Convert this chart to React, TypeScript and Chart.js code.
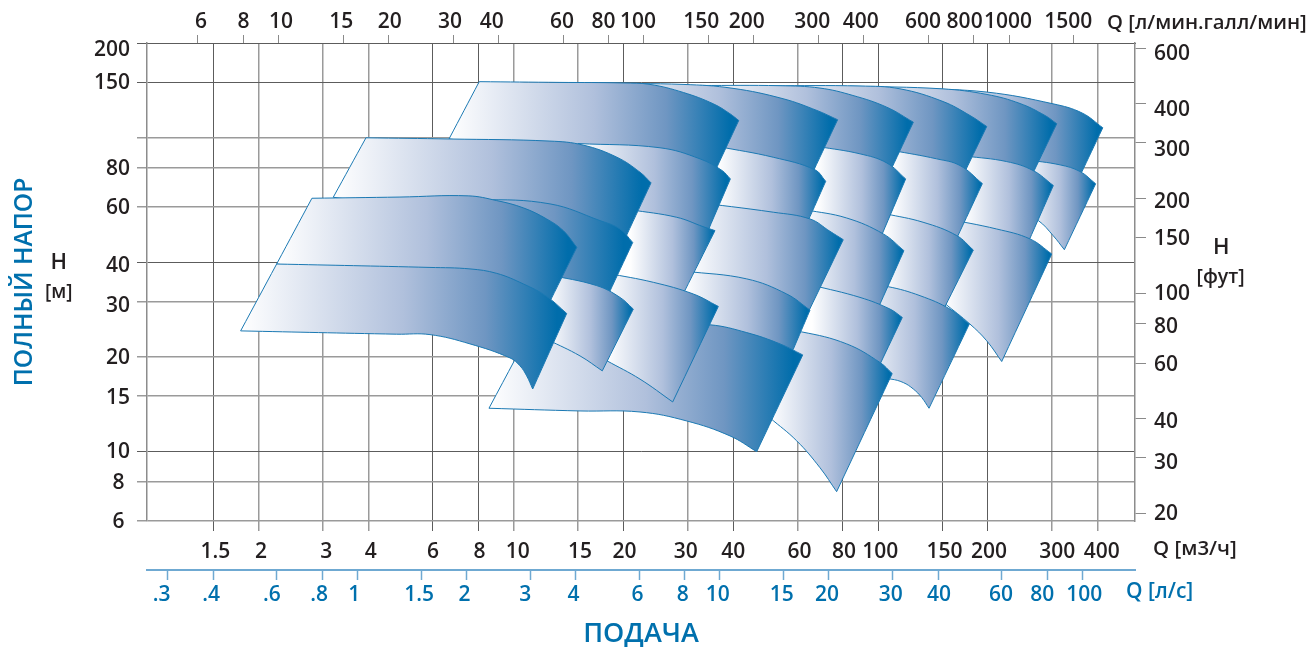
import { useEffect, useRef } from "react";
import { Chart, registerables } from "chart.js";

Chart.register(...registerables);

type Pair = [number, number];

// tick labels
const qCubicPerHour = [1.5, 2, 3, 4, 6, 8, 10, 15, 20, 30, 40, 60, 80, 100, 150, 200, 300, 400];
const qLitresPerMin = [6, 8, 10, 15, 20, 30, 40, 60, 80, 100, 150, 200, 300, 400, 600, 800, 1000, 1500];
const qLitresPerSec = [0.3, 0.4, 0.6, 0.8, 1, 1.5, 2, 3, 4, 6, 8, 10, 15, 20, 30, 40, 60, 80, 100];
const headMetres = [6, 8, 10, 15, 20, 30, 40, 60, 80, 100, 150, 200];
const headFeet = [20, 30, 40, 60, 80, 100, 150, 200, 300, 400, 600];
const unlabelledHead = [100];

// pump ranges: [Q m3/h, H m] along upper and lower edges, left to right
const a6Top: Pair[] = [[126.1, 143.4], [198.8, 139.5], [301.7, 128], [362.3, 119.7], [413, 107.4]];
const a6Bottom: Pair[] = [[98, 75.7], [357.8, 75.6]];
const a5Top: Pair[] = [[83.6, 145.8], [149.6, 142.9], [198.8, 137.1], [244.9, 128.3], [286.8, 117.5], [308.8, 110.6]];
const a5Bottom: Pair[] = [[65, 76.8], [265, 76.5]];
const a4Top: Pair[] = [[50.47, 146.2], [89.1, 145.9], [114.7, 142.9], [150.5, 130.2], [178.5, 117.5], [198.4, 108.4]];
const a4Bottom: Pair[] = [[39, 77.3], [172.6, 77.5]];
const a3Top: Pair[] = [[32.43, 146.5], [53.76, 146.2], [69.2, 143.7], [85.2, 136.1], [105.5, 124.9], [124.8, 111.9]];
const a3Bottom: Pair[] = [[25, 78.5], [108.6, 79.4]];
const a2Top: Pair[] = [[17.24, 148.7], [29.13, 147.6], [39.95, 143.4], [54.79, 132.9], [67.9, 121.9], [77.36, 113.9]];
const a2Bottom: Pair[] = [[12.6, 78.5], [66.2, 77.7]];
const a1Top: Pair[] = [[8.04, 150.6], [13.39, 149.8], [19.94, 149.2], [23.65, 147.6], [29.2, 139.1], [35.28, 128], [39.2, 119], [41.42, 113.3]];
const a1Bottom: Pair[] = [[6.642, 98.9], [35.9, 79.4]];

const b7Top: Pair[] = [[252.8, 85], [315.3, 81.8], [357.8, 77.9], [394.8, 71.2]];
const b7Bottom: Pair[] = [[252.8, 56.4], [274.9, 54.35], [301.7, 48.7], [324, 43.9]];
const b6Top: Pair[] = [[173, 87.3], [225.1, 83.8], [265.8, 78.5], [302.2, 70.3]];
const b6Bottom: Pair[] = [[135, 46.9], [257.7, 46.3]];
const b5Top: Pair[] = [[109.7, 90.9], [144.6, 85.5], [167.6, 81.4], [193, 71.3]];
const b5Bottom: Pair[] = [[85, 47.95], [163.8, 47.5]];
const b4Top: Pair[] = [[68.33, 93.6], [89.1, 88.7], [105.5, 83], [118.9, 73.8]];
const b4Bottom: Pair[] = [[53, 48.7], [102, 48.6]];
const b3Top: Pair[] = [[36.34, 93.6], [51.52, 86.5], [67.04, 78.9], [71.74, 72.5]];
const b3Bottom: Pair[] = [[28, 54.35], [63.9, 53.6]];
const b2Top: Pair[] = [[15.01, 95.67], [25.19, 92.73], [32.43, 85.5], [37.27, 78.5], [39.28, 73.8]];
const b2Bottom: Pair[] = [[11.7, 51.25], [34.1, 50.4]];
const b1Top: Pair[] = [[3.931, 99.77], [6.683, 98.9], [12.57, 97.4], [15.49, 94.6], [19.19, 86.5], [22.2, 77.5], [23.8, 71.7]];
const b1Bottom: Pair[] = [[3.197, 64.5], [20.36, 48.6]];

const c7Top: Pair[] = [[152.5, 55.2], [211.3, 51.1], [260.9, 47.5], [299.2, 42.55]];
const c7Bottom: Pair[] = [[152.5, 29.54], [178.5, 25.44], [198.4, 22.5], [218.1, 19.33]];
const c6Top: Pair[] = [[104.4, 57.2], [132.7, 53.7], [164.1, 48.7], [182.3, 43.8]];
const c6Bottom: Pair[] = [[81, 28.7], [151.2, 28.4]];
const c5Top: Pair[] = [[62.96, 58.9], [81.9, 55.4], [103.2, 49.3], [117.6, 43.6]];
const c5Bottom: Pair[] = [[49, 29.76], [101, 29.4]];
const c4Top: Pair[] = [[30.44, 62.5], [51.52, 57.8], [64.98, 55], [73.7, 50.24], [80.16, 47.25]];
const c4Bottom: Pair[] = [[23.7, 28.05], [64.2, 27.7]];
const c3Top: Pair[] = [[20.84, 58.9], [27.99, 55.69], [33.05, 52.01], [35.65, 50.5]];
const c3Bottom: Pair[] = [[16.2, 32.5], [29.3, 32.1]];
const c2Top: Pair[] = [[2.939, 62.95], [8.078, 63.4], [12.57, 61.44], [17.24, 54.35], [19.56, 51.1], [21.2, 46.3]];
const c2Bottom: Pair[] = [[2.939, 39.9], [18.2, 31.7]];
const c1Top: Pair[] = [[2.794, 64.03], [4.873, 64.6], [7.5, 65.17], [8.977, 62.95], [10.62, 59.68], [12.31, 55], [13.67, 50.5], [14.89, 44.67]];
const c1Bottom: Pair[] = [[2.236, 39.53], [12.63, 30.4]];

const d6Top: Pair[] = [[89.1, 34.24], [106.5, 33.47], [130.2, 31.33], [157.3, 28.4], [177.7, 25.44]];
const d6Bottom: Pair[] = [[89.1, 17.4], [108.4, 16.99], [117.1, 16.57], [124.8, 15.8], [131.6, 14.84], [137.8, 13.72]];
const d5Top: Pair[] = [[65.8, 33.86], [89.1, 30.94], [107.7, 28.4], [116.4, 26.71]];
const d5Bottom: Pair[] = [[51, 19.15], [101, 18.9]];
const d4Top: Pair[] = [[29.5, 37.51], [43.57, 35.44], [56.08, 31.72], [64.98, 28.2]];
const d4Bottom: Pair[] = [[23, 21.37], [58.4, 21.1]];
const d3Top: Pair[] = [[18.02, 36.96], [24.15, 34.56], [31.09, 31.72], [36.41, 28.96]];
const d3Bottom: Pair[] = [[18.02, 19.43], [22.2, 16.99], [27.29, 14.37]];
const d2Top: Pair[] = [[12.41, 36.56], [16.88, 33.74], [19.56, 30.94], [21.28, 28.4]];
const d2Bottom: Pair[] = [[12.41, 22.67], [15.2, 20.14], [17.49, 18.05]];
const d1Top: Pair[] = [[2.236, 39.53], [5.89, 38.55], [7.583, 38.13], [8.977, 36.91], [10.62, 34.16], [12.31, 31.17], [13.97, 27.5]];
const d1Bottom: Pair[] = [[1.781, 24.2], [4.772, 23.62], [5.89, 23.55], [7.583, 22], [9.764, 19.85], [10.4, 18.73], [10.85, 17.4], [11.27, 15.8]];

const e2Top: Pair[] = [[50.47, 24.56], [61.66, 24.02], [81.9, 22], [101.1, 19.19], [109.2, 17.7]];
const e2Bottom: Pair[] = [[50.47, 12.78], [59.75, 10.8], [69.2, 8.87], [76.87, 7.44]];
const e1Top: Pair[] = [[11.8, 27.64], [34.54, 25.31], [43.57, 23.9], [53.76, 22], [62.05, 20.29]];
const e1Bottom: Pair[] = [[8.55, 13.72], [15.2, 13.45], [22.2, 13.35], [29.81, 12.5], [39.2, 11.2], [46.4, 9.98]];

// back to front
const ranges: Pair[][][] = [
  [a6Top, a6Bottom], [b7Top, b7Bottom], [a5Top, a5Bottom], [b6Top, b6Bottom], [c7Top, c7Bottom],
  [a4Top, a4Bottom], [b5Top, b5Bottom], [c6Top, c6Bottom], [d6Top, d6Bottom],
  [a3Top, a3Bottom], [b4Top, b4Bottom], [c5Top, c5Bottom], [d5Top, d5Bottom],
  [a2Top, a2Bottom], [b3Top, b3Bottom], [c4Top, c4Bottom], [e2Top, e2Bottom], [d4Top, d4Bottom],
  [a1Top, a1Bottom], [b2Top, b2Bottom], [c3Top, c3Bottom], [e1Top, e1Bottom], [d3Top, d3Bottom],
  [b1Top, b1Bottom], [c2Top, c2Bottom], [d2Top, d2Bottom], [c1Top, c1Bottom], [d1Top, d1Bottom],
];
// ranges whose slanted left side is in view: the gradient starts at their lower corner
const openLeft = [a1Top, b1Top, c1Top, d1Top, e1Top];

const softX = [2, 10, 15, 300, 400, 3, 4, 30, 60];
const softY = [6, 8, 15, 20, 30, 60, 80, 100];
const FONT = '"Open Sans", "Noto Sans", sans-serif';
const INK = "#231f20";
const BLUE = "#0070ad";
const tickFont = { family: FONT, size: 21, weight: "600" as const };

const unitLabels = [
  { text: "Q [л/мин.галл/мин]", x: 1107, y: 23, color: INK, size: 20.3 },
  { text: "Q [м3/ч]", x: 1153, y: 549, color: INK, size: 20.5 },
  { text: "Q [л/с]", x: 1126, y: 592.5, color: BLUE, size: 21 },
  { text: "H", x: 50.5, y: 263, color: INK, size: 22 },
  { text: "[м]", x: 45, y: 293, color: INK, size: 19 },
  { text: "H", x: 1213, y: 248, color: INK, size: 22 },
  { text: "[фут]", x: 1196.5, y: 277, color: INK, size: 19.5 },
];

// hand placement of individual tick labels in the original drawing: label -> offset
const labelNudges: Record<string, Record<string, number>> = {
  xTop: { "6": 3, "10": 2, "15": -2, "20": 1, "30": -3, "40": -7, "60": -1, "80": -5, "100": -6, "150": -7, "200": -7, "300": -6, "400": -3, "600": -5, "800": -9, "1000": -1, "1500": -5 },
  x: { "3": 1, "6": -2, "8": -1, "10": 2, "20": -1, "30": -4, "40": -2, "80": -1, "200": -1, "300": 3, "400": 2 },
  x2: { ".3": -4, ".6": -3, ".8": -1, "1": -1, "3": -3, "40": 3, "60": 1, "80": -3, "100": 4 },
  y: { "200": 6, "40": 3, "30": 3, "15": 1 },
  yR: { "600": 4, "400": 4, "300": 5, "200": 2, "150": -1, "100": -1, "80": 1, "40": 2, "30": 3, "20": -1 },
};

const nudgePlugin = {
  id: "nudgeLabels",
  beforeDraw(chart: any) {
    for (const id of Object.keys(labelNudges)) {
      const scale = chart.scales[id];
      const horizontal = scale.isHorizontal();
      for (const item of scale.getLabelItems()) {
        const d = labelNudges[id][String(item.label).trim()];
        if (d) item.options.translation[horizontal ? 0 : 1] += d;
      }
    }
  },
};

const toPoint = ([x, y]: Pair) => ({ x, y });
const outline = (top: Pair[], bottom: Pair[]) => {
  const t = top.map(toPoint);
  const b = [...bottom].reverse().map(toPoint);
  return [t[0], ...t, t[t.length - 1], b[0], ...b, b[b.length - 1], t[0], t[0]];
};

const fillFor = (ctx: any) => {
  const chart = ctx.chart;
  const scale = chart.scales.x;
  if (!scale || !chart.chartArea) return "#8aa5cc";
  const xs = ctx.dataset.data.map((p: any) => p.x);
  const from = ctx.dataset.gradientFrom;
  const g = chart.ctx.createLinearGradient(
    scale.getPixelForValue(from), 0, scale.getPixelForValue(Math.max(...xs)), 0
  );
  g.addColorStop(0, "#ffffff");
  g.addColorStop(0.5, "#b0c0dc");
  g.addColorStop(0.75, "#6f96c2");
  g.addColorStop(0.97, "#006dab");
  g.addColorStop(1, "#006dab");
  return g;
};

const labelsPlugin = {
  id: "unitLabels",
  afterDraw(chart: any) {
    const c = chart.ctx;
    c.save();
    c.textBaseline = "middle";
    c.textAlign = "left";
    for (const l of unitLabels) {
      c.font = `600 ${l.size}px ${FONT}`;
      c.fillStyle = l.color;
      c.fillText(l.text, l.x, l.y);
    }
    c.restore();
  },
};

const setTicks = (values: number[]) => (scale: any) => {
  scale.ticks = values.map((value) => ({ value }));
};
const fixSize = (key: "width" | "height", size: number) => (scale: any) => {
  scale[key] = size;
};
const tickText = (v: number | string) => {
  const n = Number(v);
  if (n < 1) return String(n).replace(/^0/, "");
  return String(n);
};

export default function App() {
  const ref = useRef<HTMLCanvasElement>(null);
  useEffect(() => {
    document.body.style.margin = "0";
    const chart = new Chart(ref.current!, {
      type: "scatter",
      data: {
        datasets: ranges.map(([top, bottom], i) => ({
          data: outline(top, bottom),
          gradientFrom: openLeft.includes(top) ? Math.min(top[0][0], bottom[0][0]) : top[0][0],
          showLine: true,
          order: ranges.length - i,
          fill: "shape",
          tension: 0.4,
          pointRadius: 0,
          borderWidth: 1,
          borderColor: "#1b79b3",
          backgroundColor: fillFor,
        })),
      } as any,
      options: {
        animation: false,
        responsive: false,
        events: [],
        layout: { padding: 0 },
        plugins: { legend: { display: false }, tooltip: { enabled: false }, title: { display: false } },
        scales: {
          x: {
            type: "logarithmic", position: "bottom", min: 0.9858, max: 506.2, weight: 0,
            afterBuildTicks: setTicks(qCubicPerHour), afterFit: fixSize("height", 49),
            border: { display: false },
            grid: {
              tickLength: 10,
              color: (c: any) => (softX.includes(c.tick?.value) ? "#9a9a9a" : "#5c5c5c"),
              lineWidth: (c: any) => (softX.includes(c.tick?.value) ? 1.5 : 1),
            },
            ticks: { callback: tickText, autoSkip: false, maxRotation: 0, font: tickFont, color: INK, padding: 8, labelOffset: 2 },
          },
          x2: {
            type: "logarithmic", axis: "x", position: "bottom", min: 0.263, max: 139.7, weight: 1,
            afterBuildTicks: setTicks(qLitresPerSec), afterFit: fixSize("height", 77),
            border: { color: "#6fa9d2", width: 2 },
            title: { display: true, text: "ПОДАЧА", color: BLUE, font: { family: FONT, size: 27, weight: "600" }, padding: { top: 0, bottom: -3.5 } },
            grid: { drawOnChartArea: false, tickLength: 10, tickColor: "#6fa9d2", tickWidth: 1.5 },
            ticks: { callback: tickText, autoSkip: false, maxRotation: 0, font: tickFont, color: BLUE, padding: 2, labelOffset: -2 },
          },
          xTop: {
            type: "logarithmic", axis: "x", position: "top", min: 4.35, max: 2214,
            afterBuildTicks: setTicks(qLitresPerMin), afterFit: fixSize("height", 43),
            border: { color: "#5c5c5c", width: 1 },
            grid: { drawOnChartArea: false, tickLength: 8, tickColor: "#8a8a8a" },
            ticks: { callback: tickText, autoSkip: false, maxRotation: 0, font: tickFont, color: INK, padding: 0, labelOffset: 0 },
          },
          y: {
            type: "logarithmic", position: "left", min: 6, max: 200,
            afterBuildTicks: setTicks(headMetres), afterFit: fixSize("width", 147),
            border: { color: "#8c8c8c", width: 1.5 },
            title: { display: true, text: "ПОЛНЫЙ НАПОР", color: BLUE, font: { family: FONT, size: 24.6, weight: "600" }, padding: { top: 10, bottom: 0 } },
            grid: {
              tickLength: 10,
              color: (c: any) => (softY.includes(c.tick?.value) ? "#9a9a9a" : "#5c5c5c"),
              lineWidth: (c: any) => (softY.includes(c.tick?.value) ? 1.5 : 1),
            },
            ticks: {
              callback: (v: any) => (unlabelledHead.includes(Number(v)) ? "" : Number(v) < 10 ? `${v} ` : String(v)),
              autoSkip: false, font: tickFont, color: INK, padding: 7, labelOffset: 1,
            },
          },
          yR: {
            type: "logarithmic", axis: "y", position: "right", min: 18.9, max: 623,
            afterBuildTicks: setTicks(headFeet), afterFit: fixSize("width", 174),
            border: { color: "#8c8c8c", width: 1.5 },
            grid: { drawOnChartArea: false, tickLength: 11, tickColor: "#8a8a8a" },
            ticks: { callback: tickText, autoSkip: false, font: tickFont, color: INK, padding: 8, labelOffset: 2 },
          },
        },
      } as any,
      plugins: [nudgePlugin, labelsPlugin],
    });
    return () => chart.destroy();
  }, []);
  return <canvas ref={ref} width={1309} height={647} style={{ display: "block" }} />;
}
